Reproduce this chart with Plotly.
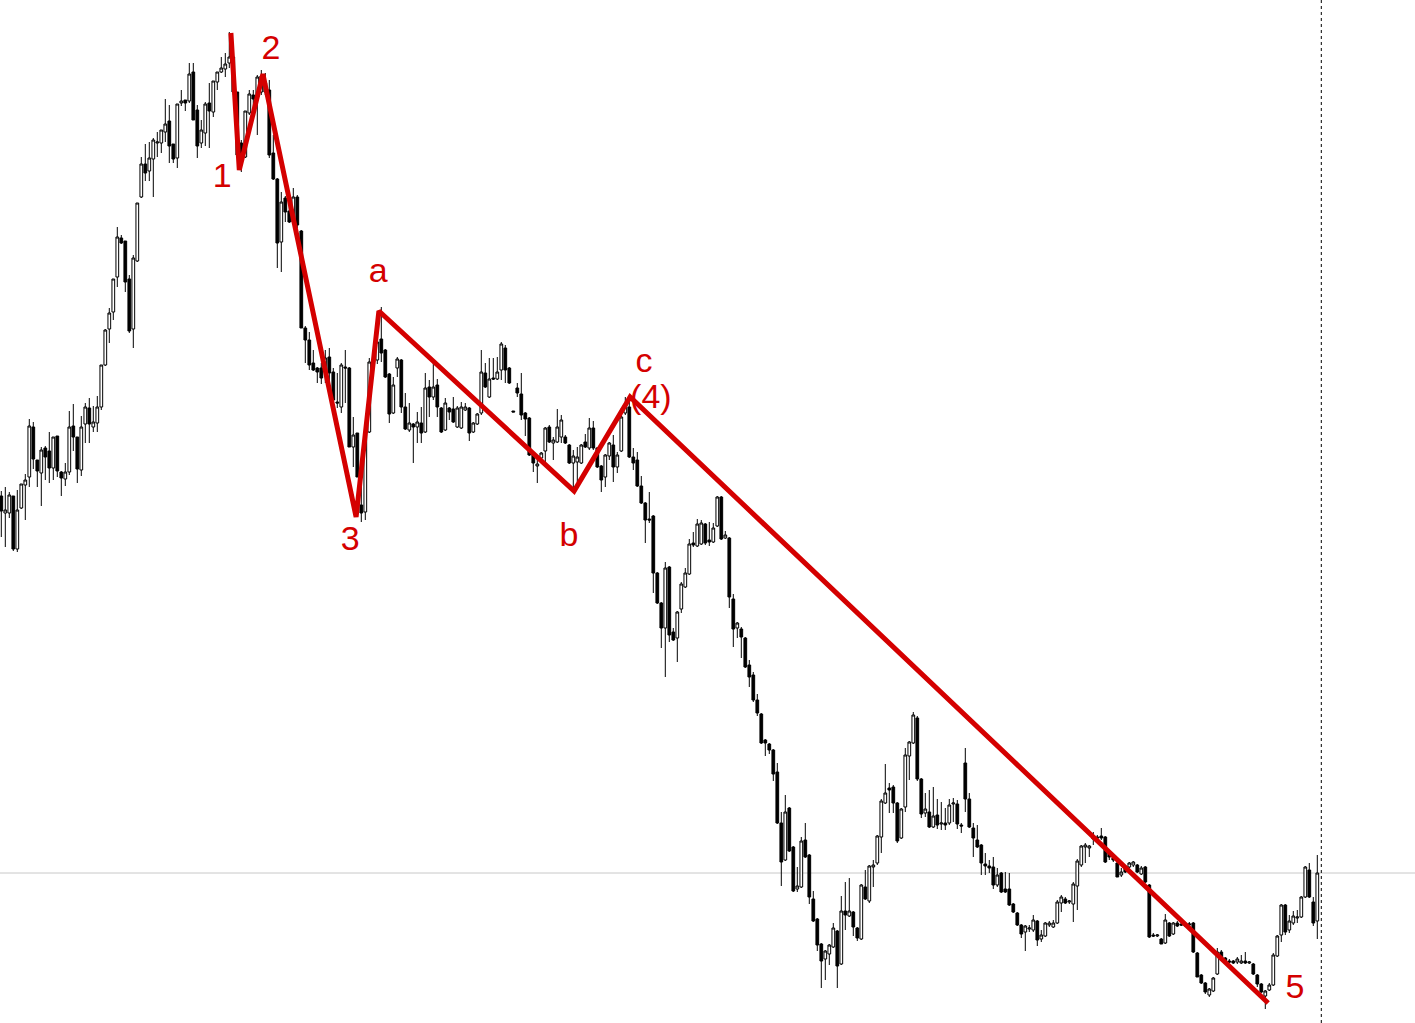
import plotly.graph_objects as go

# OHLC prices (arbitrary price units), one candle per period
opens = [
    604,587,587,604,551,592,615,623,673,640,
    627,652,649,632,664,628,621,628,674,663,
    630,676,692,673,677,693,735,771,788,823,
    862,859,821,771,839,903,936,929,941,957,
    957,968,979,956,942,997,1000,999,1028,990,
    957,967,997,988,1018,1028,1031,1037,1043,1008,
    957,943,987,1005,1003,1008,1017,1010,947,921,
    858,902,889,878,903,869,772,760,737,732,
    732,728,743,728,698,693,733,732,653,667,
    595,588,668,738,740,761,750,726,687,732,
    740,693,670,676,673,677,668,713,703,715,
    692,670,692,691,673,672,690,692,668,676,
    687,727,703,722,721,730,752,732,689,712,
    706,687,682,645,634,642,649,673,657,658,
    663,663,655,637,638,637,658,652,672,652,
    634,623,644,655,633,649,687,693,643,640,
    614,597,581,584,527,497,472,533,468,462,
    491,513,526,557,554,556,576,560,558,574,
    603,562,562,501,472,471,462,435,425,400,
    386,360,356,350,328,277,240,292,253,211,
    213,260,245,201,181,156,141,146,153,169,
    136,189,184,188,172,161,213,199,233,237,
    263,297,312,313,297,262,293,344,357,382,
    321,287,288,273,285,276,277,277,296,296,
    275,337,301,272,260,255,236,234,233,215,
    227,211,211,196,187,175,168,171,170,179,
    161,164,175,173,177,197,201,198,196,214,
    235,253,252,263,263,264,263,247,242,237,
    225,232,233,235,235,226,233,215,165,164,
    161,157,177,166,177,176,174,175,177,147,
    125,117,105,109,126,148,142,139,139,138,
    137,139,137,136,125,116,104,110,115,144,
    165,195,170,177,182,183,203,230,198,179,
]
highs = [
    609,613,608,604,610,616,626,681,678,640,
    653,654,668,663,664,629,637,689,696,663,
    684,697,702,694,704,735,771,792,821,873,
    865,859,825,845,897,943,956,958,962,968,
    970,1001,995,956,996,1010,1000,1037,1037,995,
    980,998,1017,1019,1028,1043,1047,1068,1050,1008,
    960,989,1010,1010,1025,1030,1027,1020,965,922,
    908,904,898,912,905,870,774,768,750,733,
    737,750,752,732,727,737,750,733,683,667,
    633,668,742,750,762,793,751,727,723,743,
    741,707,697,677,688,693,727,720,740,721,
    693,702,693,703,694,698,697,693,678,687,
    750,737,742,742,743,758,755,733,689,717,
    727,688,683,646,643,648,673,675,663,691,
    685,665,656,650,653,656,666,682,679,653,
    635,646,658,665,648,692,703,703,652,648,
    624,598,608,585,528,498,538,534,472,489,
    518,532,561,568,581,580,577,578,577,604,
    604,569,563,506,478,473,463,440,428,406,
    387,361,357,351,337,288,305,293,254,233,
    263,277,246,209,182,157,150,156,177,170,
    204,218,222,189,173,216,230,235,240,265,
    301,336,317,315,298,292,352,359,388,384,
    322,307,310,313,301,298,292,301,302,300,
    277,352,307,277,275,256,247,240,243,232,
    228,228,227,197,188,176,175,175,185,180,
    170,178,179,180,200,205,203,200,218,241,
    255,257,255,268,265,272,264,250,245,238,
    232,234,238,239,236,234,234,216,167,166,
    162,186,178,178,179,179,178,178,178,148,
    126,118,112,123,152,150,143,141,140,143,
    145,148,139,137,126,117,110,117,147,165,
    196,196,185,189,190,204,234,237,203,245,
]
lows = [
    563,553,582,549,548,591,580,613,631,613,
    594,620,617,620,623,604,614,625,649,617,
    624,657,657,668,668,690,734,757,780,813,
    856,808,767,752,838,902,919,919,903,943,
    947,958,937,937,932,994,989,997,980,942,
    952,954,952,983,1010,1027,1023,1032,1005,942,
    928,942,985,990,965,1005,1005,942,920,832,
    828,878,877,877,872,772,737,730,729,717,
    716,717,717,695,692,687,697,653,633,623,
    578,580,667,732,736,738,722,677,686,723,
    687,670,668,637,657,657,667,683,700,683,
    667,669,680,677,672,671,689,659,667,675,
    685,712,702,720,720,720,717,716,688,703,
    680,664,644,628,617,641,638,657,640,657,
    657,656,636,610,618,636,652,650,650,632,
    608,613,640,618,627,648,685,642,630,613,
    596,557,577,507,496,452,423,458,459,438,
    487,512,525,553,553,555,555,554,557,573,
    560,561,492,453,462,442,432,413,398,384,
    356,344,346,319,276,214,239,248,208,208,
    212,242,196,178,149,112,120,135,152,112,
    135,170,183,164,159,160,200,197,213,235,
    247,296,287,287,257,261,288,320,356,319,
    282,283,272,272,271,270,270,275,278,271,
    267,288,272,243,252,225,225,227,211,213,
    207,207,194,187,174,162,149,168,168,154,
    158,163,173,172,176,188,196,196,178,190,
    233,237,243,255,258,260,237,240,238,223,
    223,227,232,233,227,225,217,162,163,163,
    156,156,163,165,173,174,173,173,147,123,
    116,106,103,108,125,141,137,137,136,136,
    136,136,136,125,113,107,91,109,114,143,
    158,165,167,175,177,182,202,202,174,161,
]
closes = [
    589,590,605,551,590,616,620,674,641,629,
    650,643,632,663,629,622,628,673,663,631,
    673,693,676,678,693,735,770,787,821,863,
    857,818,769,842,897,936,927,942,960,958,
    970,976,954,941,996,999,997,1026,980,954,
    970,996,989,1019,1028,1032,1036,1043,1008,945,
    942,989,1006,1001,1023,1024,1008,945,921,857,
    898,888,878,903,875,772,760,735,730,728,
    722,742,727,700,697,735,732,653,665,623,
    587,668,738,740,758,747,723,686,715,741,
    693,671,677,673,678,667,712,703,713,693,
    668,697,688,678,692,693,693,667,677,686,
    728,713,721,721,728,756,730,717,688,707,
    685,681,645,637,636,647,672,658,660,673,
    680,657,637,644,643,655,653,672,652,633,
    620,645,657,633,645,683,695,643,637,614,
    597,580,580,527,497,472,532,465,460,488,
    516,527,556,555,576,577,557,558,572,603,
    561,565,503,471,477,463,433,423,400,387,
    357,357,350,326,277,238,288,249,209,214,
    259,243,203,179,155,139,149,155,172,134,
    189,185,189,173,162,215,201,234,235,264,
    299,307,310,297,259,291,345,358,385,321,
    286,291,273,284,275,277,275,295,297,276,
    274,301,273,262,253,237,234,232,215,225,
    208,208,195,188,175,166,174,172,180,160,
    165,177,177,177,198,203,197,199,216,239,
    254,255,254,261,262,262,238,243,240,223,
    228,228,237,238,228,232,218,163,164,165,
    156,180,164,177,174,175,176,176,148,123,
    117,108,111,122,148,142,139,138,137,141,
    139,137,138,126,116,108,109,115,145,164,
    195,168,179,184,183,203,233,203,177,227,
]

# Elliott wave pivots (bar index, price)
wave_x = [57.4, 59.5, 65.4, 88.7, 94.4, 143.2, 157.2, 316.7]
wave_price = [1067, 930, 1026, 583, 789, 609, 703, 97]

# Wave labels
label_text = ["1", "2", "3", "a", "b", "c", "(4)", "5"]
label_x = [55.2, 67.4, 87.2, 94.2, 141.9, 160.7, 162.4, 323.4]
label_price = [922, 1050, 559, 827, 563, 737, 701, 111]

n = min(len(opens), len(highs), len(lows), len(closes))
idx = list(range(n))
o = opens[:n]
c = closes[:n]
h = [max(highs[i], o[i], c[i]) for i in range(n)]
l = [min(lows[i], o[i], c[i]) for i in range(n)]

RED = "#d40000"

fig = go.Figure()
fig.add_trace(go.Candlestick(
    x=idx, open=o, high=h, low=l, close=c,
    increasing=dict(line=dict(color="black", width=1), fillcolor="white"),
    decreasing=dict(line=dict(color="black", width=1), fillcolor="black"),
    hoverinfo="skip", showlegend=False,
))
fig.add_trace(go.Scatter(
    x=wave_x, y=wave_price, mode="lines",
    line=dict(color=RED, width=5), hoverinfo="skip", showlegend=False,
))
fig.add_trace(go.Scatter(
    x=label_x, y=label_price, mode="text", text=label_text,
    textposition="middle center",
    textfont=dict(family="Liberation Sans, Arial, sans-serif", size=34, color=RED),
    hoverinfo="skip", showlegend=False,
))

# current-price line and time marker
fig.add_shape(type="line", xref="paper", yref="y", x0=0, x1=1,
              y0=closes[n - 1], y1=closes[n - 1],
              line=dict(color="#c8c8c8", width=1), layer="below")
fig.add_shape(type="line", xref="x", yref="paper", x0=n, x1=n, y0=0, y1=1,
              line=dict(color="black", width=1, dash="dot"))

fig.update_layout(
    width=1415, height=1023,
    margin=dict(l=0, r=0, t=0, b=0),
    paper_bgcolor="white", plot_bgcolor="white",
    showlegend=False,
    boxgap=0.32, boxgroupgap=0,
    xaxis=dict(range=[-0.325, 353.425], visible=False,
               rangeslider=dict(visible=False), fixedrange=True),
    yaxis=dict(range=[77, 1100], visible=False, fixedrange=True),
)

fig.write_html(
    "out.html",
    config={"displayModeBar": False},
    post_script="document.body.style.margin='0';document.body.style.overflow='hidden';",
)
